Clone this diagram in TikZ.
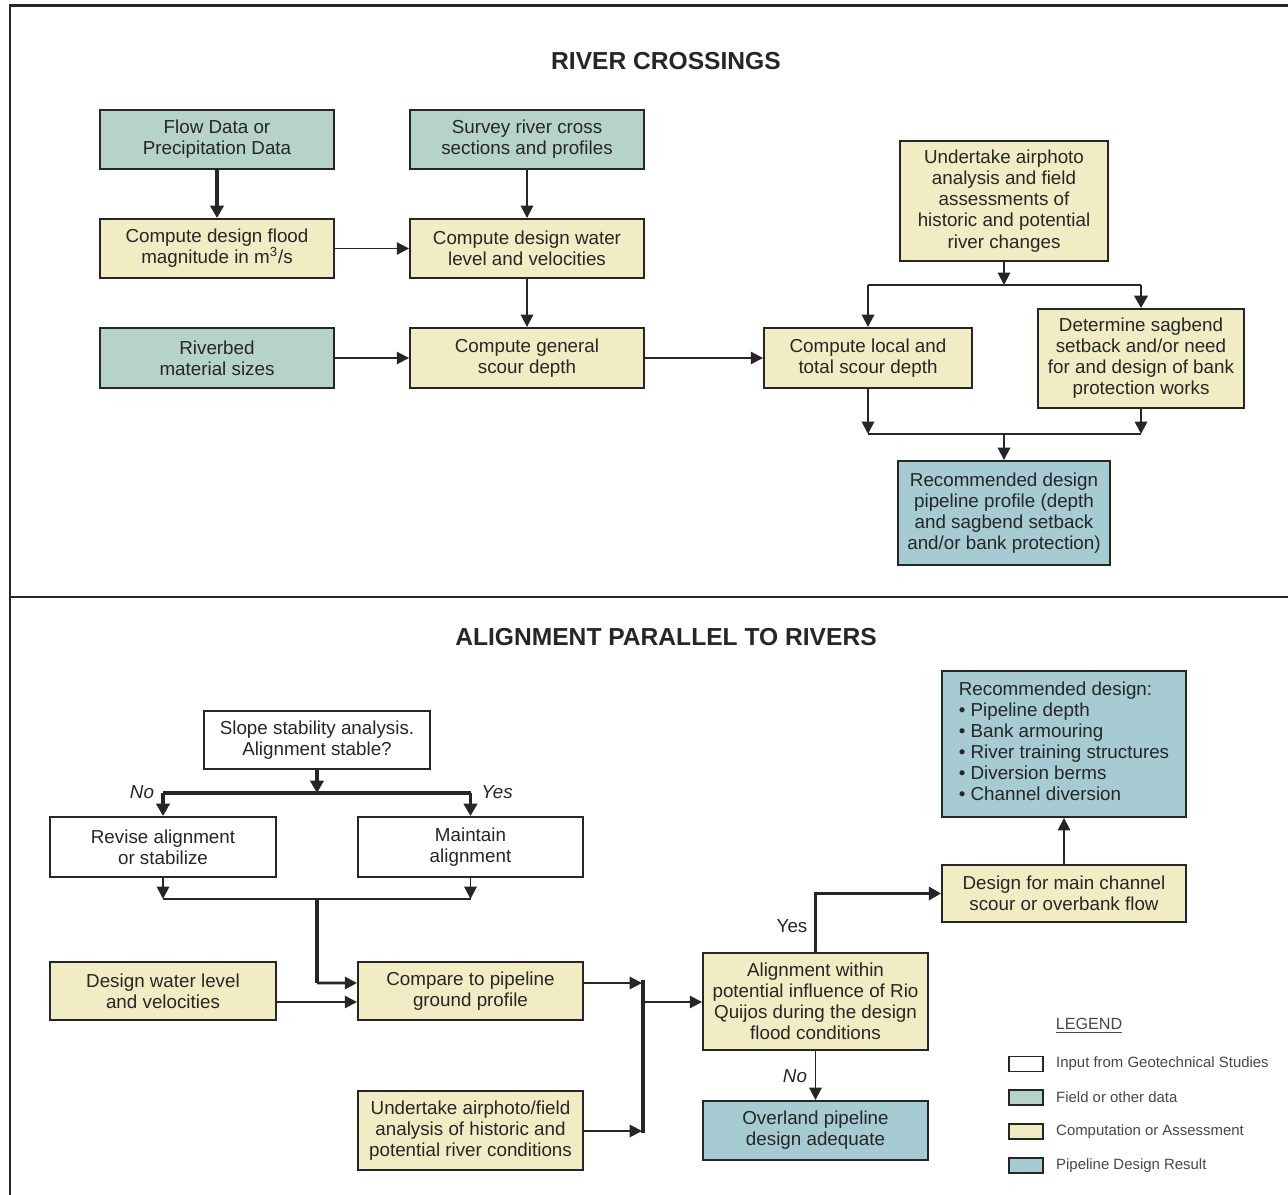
\documentclass[tikz,border=0pt]{standalone}
\usepackage{fontspec}
\setmainfont{Liberation Sans}
\usetikzlibrary{arrows.meta}
\definecolor{tealf}{HTML}{B5D3C8}
\definecolor{yelf}{HTML}{F2ECC4}
\definecolor{bluef}{HTML}{A6CBD2}
\definecolor{ink}{HTML}{262626}
\begin{document}
\begin{tikzpicture}[x=0.02cm,y=-0.02cm,
  box/.style={draw=ink, line width=1.1pt, align=center, inner sep=2pt, text=ink,
    font=\fontsize{10.7}{12}\selectfont},
  whitebox/.style={box, fill=white},
  tealbox/.style={box, fill=tealf},
  yelbox/.style={box, fill=yelf},
  bluebox/.style={box, fill=bluef},
  arr/.style={draw=ink, line width=1.1pt, -{Triangle[length=7pt,width=7pt]}},
  tarr/.style={draw=ink, line width=2.2pt, -{Triangle[length=7pt,width=7.5pt]}},
  ln/.style={draw=ink, line width=1.1pt},
  tln/.style={draw=ink, line width=2.2pt},
  lbl/.style={text=ink, font=\fontsize{10.7}{12}\selectfont},
  ilbl/.style={text=ink, font=\itshape\fontsize{10.7}{12}\selectfont},
  ttl/.style={text=ink, font=\bfseries\fontsize{14}{16}\selectfont},
  swatch/.style={draw=ink, line width=1.1pt, minimum width=0.68cm, minimum height=0.3cm, inner sep=0pt},
  legtxt/.style={text=ink!85, anchor=west, font=\fontsize{8.5}{10}\selectfont}
]
\useasboundingbox (0,0) rectangle (1288,1195);
\fill[white] (0,0) rectangle (1288,1195);
% frame
\draw[ink, line width=1.7pt] (10,1195) -- (10,6) -- (1288,6);
\draw[ink, line width=1.2pt] (10,597) -- (1288,597);

% ---------- River crossings ----------
\node[ttl] (t1) at (666,61) {RIVER CROSSINGS};

\node[tealbox, minimum width=4.68cm, minimum height=1.18cm] (flow) at (217,139.5) {Flow Data or\\Precipitation Data};
\node[tealbox, minimum width=4.68cm, minimum height=1.18cm] (survey) at (527,139.5) {Survey river cross\\sections and profiles};
\node[yelbox, minimum width=4.68cm, minimum height=1.18cm] (cflood) at (217,248.5) {Compute design flood\\magnitude in m\textsuperscript{3}/s};
\node[yelbox, minimum width=4.68cm, minimum height=1.18cm] (cwater) at (527,248.5) {Compute design water\\level and velocities};
\node[tealbox, minimum width=4.68cm, minimum height=1.2cm] (riverbed) at (217,358) {Riverbed\\material sizes};
\node[yelbox, minimum width=4.68cm, minimum height=1.2cm] (cgen) at (527,358) {Compute general\\scour depth};
\node[yelbox, minimum width=4.16cm, minimum height=2.4cm] (undertake) at (1004,201) {Undertake airphoto\\analysis and field\\assessments of\\historic and potential\\river changes};
\node[yelbox, minimum width=4.16cm, minimum height=1.2cm] (clocal) at (868,358) {Compute local and\\total scour depth};
\node[yelbox, minimum width=4.12cm, minimum height=1.98cm] (sagbend) at (1141,358.5) {Determine sagbend\\setback and/or need\\for and design of bank\\protection works};
\node[bluebox, minimum width=4.24cm, minimum height=2.08cm] (recdesign) at (1004,513) {Recommended design\\pipeline profile (depth\\and sagbend setback\\and/or bank protection)};

\draw[tarr] (flow) -- (cflood);
\draw[arr] (survey) -- (cwater);
\draw[arr] (cflood) -- (cwater);
\draw[arr] (cwater) -- (cgen);
\draw[arr] (riverbed) -- (cgen);
\draw[arr] (cgen) -- (clocal);

\coordinate (j1) at (1004,285);
\coordinate (j1l) at (868,285);
\coordinate (j1r) at (1141,285);
\draw[arr] (undertake) -- (j1);
\draw[ln] (j1l) -- (j1);
\draw[line width=1.6pt, ink] (j1) -- (j1r);
\draw[arr] (j1l) -- (clocal);
\draw[tarr, line width=1.6pt] (j1r) -- (sagbend);

\coordinate (j2l) at (868,434);
\coordinate (j2r) at (1141,434);
\coordinate (j2) at (1004,434);
\draw[arr] (clocal) -- (j2l);
\draw[arr] (sagbend) -- (j2r);
\draw[ln] (j2l) -- (j2r);
\draw[arr] (j2) -- (recdesign);

% ---------- Alignment parallel to rivers ----------
\node[ttl] (t2) at (666,637) {ALIGNMENT PARALLEL TO RIVERS};

\node[whitebox, minimum width=4.52cm, minimum height=1.16cm] (slope) at (317,740) {Slope stability analysis.\\Alignment stable?};
\node[whitebox, minimum width=4.52cm, minimum height=1.2cm] (revise) at (163,847) {Revise alignment\\or stabilize};
\node[whitebox, minimum width=4.5cm, minimum height=1.2cm] (maintain) at (470.5,847) {Maintain\\alignment};
\node[yelbox, minimum width=4.52cm, minimum height=1.16cm] (dwl) at (163,991) {Design water level\\and velocities};
\node[yelbox, minimum width=4.5cm, minimum height=1.16cm] (compare) at (470.5,991) {Compare to pipeline\\ground profile};
\node[yelbox, minimum width=4.5cm, minimum height=1.58cm] (und2) at (470.5,1130.5) {Undertake airphoto/field\\analysis of historic and\\potential river conditions};
\node[yelbox, minimum width=4.5cm, minimum height=1.94cm] (align) at (815.5,1001.5) {Alignment within\\potential influence of Rio\\Quijos during the design\\flood conditions};
\node[bluebox, minimum width=4.5cm, minimum height=1.18cm] (overland) at (815.5,1130.5) {Overland pipeline\\design adequate};
\node[yelbox, minimum width=4.88cm, minimum height=1.14cm] (designmain) at (1064,893.5) {Design for main channel\\scour or overbank flow};
\node[bluebox, minimum width=4.88cm, minimum height=2.92cm] (recd2) at (1064,744) {\begin{tabular}{@{}l@{}}Recommended design:\\
\textbullet\ Pipeline depth\\
\textbullet\ Bank armouring\\
\textbullet\ River training structures\\
\textbullet\ Diversion berms\\
\textbullet\ Channel diversion\end{tabular}};

\coordinate (j3) at (317,793);
\coordinate (j3l) at (163,793);
\coordinate (j3r) at (470.5,793);
\draw[tarr] (slope) -- (j3);
\draw[tln] (j3l) -- (j3r);
\draw[tarr] (j3l) -- (revise);
\draw[tarr] (j3r) -- (maintain);
\node[ilbl] (lno) at (142,792) {No};
\node[ilbl] (lyes) at (497,792) {Yes};

\coordinate (j4l) at (163,899);
\coordinate (j4r) at (470.5,899);
\coordinate (j4) at (317,899);
\draw[arr] (revise) -- (j4l);
\draw[arr] (maintain) -- (j4r);
\draw[line width=1.6pt, ink] (j4l) -- (j4r);
\draw[line width=2.2pt, ink] (j4) -- (317,983);
\draw[arr, line width=1.6pt] (317,983) -- ([yshift=0.16cm]compare.west);
\draw[arr] ([yshift=-0.22cm]dwl.east) -- ([yshift=-0.22cm]compare.west);

\coordinate (b1) at (642,983);
\coordinate (b2) at (642,1131);
\coordinate (b3) at (645,1002);
\draw[arr] ([yshift=0.16cm]compare.east) -- (b1);
\draw[arr] (und2.east |- b2) -- (b2);
\draw[ink, line width=2.8pt] (643,980) -- (643,1133);
\draw[arr] (b3) -- (align.west |- b3);

\draw[tarr] (align.north) |- (designmain.west);
\node[lbl] (lyes2) at (792,926) {Yes};
\draw[arr] (designmain) -- (recd2);
\draw[arr] (align) -- (overland);
\node[ilbl] (lno2) at (795,1076) {No};

% legend
\node[text=ink!85, font=\fontsize{9.2}{11}\selectfont] (leg) at (1089,1026) {\underline{LEGEND}};
\node[swatch, fill=white] (s1) at (1026,1064) {};
\node[swatch, fill=tealf] (s2) at (1026,1097.5) {};
\node[swatch, fill=yelf] (s3) at (1026,1131.5) {};
\node[swatch, fill=bluef] (s4) at (1026,1165.5) {};
\node[legtxt] (l1) at (1050,1064) {Input from Geotechnical Studies};
\node[legtxt] (l2) at (1050,1097.5) {Field or other data};
\node[legtxt] (l3) at (1050,1131.5) {Computation or Assessment};
\node[legtxt] (l4) at (1050,1165.5) {Pipeline Design Result};
\end{tikzpicture}
\end{document}
